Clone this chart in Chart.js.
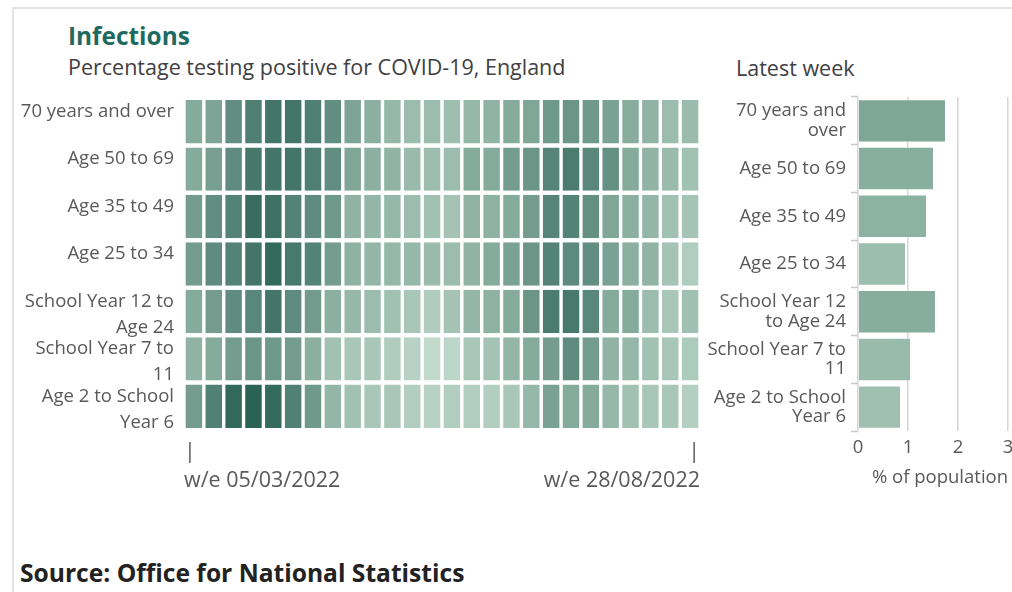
<!DOCTYPE html>
<html>
<head>
<meta charset="utf-8">
<script src="https://cdn.jsdelivr.net/npm/chart.js@4.4.1/dist/chart.umd.min.js"></script>
<style>
html,body{margin:0;padding:0;width:1012px;height:592px;overflow:hidden;background:#fff;font-family:"Open Sans",sans-serif;}
#frame{position:absolute;left:12px;top:7px;width:1100px;height:700px;border-top:2px solid #e3e3e3;border-left:2px solid #e3e3e3;}
.t{position:absolute;white-space:nowrap;}
#title{left:68px;top:20px;font-weight:700;font-size:24.4px;line-height:32px;color:#1f6a5f;}
#subtitle{left:68px;top:53px;font-size:21.5px;line-height:28px;color:#414042;}
#latest{left:736px;top:54px;font-size:21.5px;line-height:28px;color:#414042;}
#source{left:20px;top:557px;font-weight:700;font-size:24.6px;line-height:32px;color:#222;}
#heatWrap{position:absolute;left:0;top:90px;width:712px;height:410px;}
#barWrap{position:absolute;left:700px;top:90px;width:330px;height:410px;}
</style>
</head>
<body>
<div id="frame"></div>
<div class="t" id="title">Infections</div>
<div class="t" id="subtitle">Percentage testing positive for COVID-19, England</div>
<div class="t" id="latest">Latest week</div>
<div id="heatWrap"><canvas id="heat" width="712" height="410"></canvas></div>
<div id="barWrap"><canvas id="bars" width="330" height="410"></canvas></div>
<div class="t" id="source">Source: Office for National Statistics</div>
<script>
// ---- categories ----
const groups = ['70 years and over','Age 50 to 69','Age 35 to 49','Age 25 to 34','School Year 12 to Age 24','School Year 7 to 11','Age 2 to School Year 6'];
const heatGroupLabels = [['70 years and over',''],['Age 50 to 69',''],['Age 35 to 49',''],['Age 25 to 34',''],['School Year 12 to','Age 24'],['School Year 7 to','11'],['Age 2 to School','Year 6']];
const barGroupLabels = [['70 years and','over'],'Age 50 to 69','Age 35 to 49','Age 25 to 34',['School Year 12','to Age 24'],['School Year 7 to','11'],['Age 2 to School','Year 6']];
const weeks = ['w/e 05/03/2022','w/e 12/03/2022','w/e 19/03/2022','w/e 26/03/2022','w/e 02/04/2022','w/e 09/04/2022','w/e 16/04/2022','w/e 23/04/2022','w/e 30/04/2022','w/e 07/05/2022','w/e 14/05/2022','w/e 21/05/2022','w/e 28/05/2022','w/e 04/06/2022','w/e 11/06/2022','w/e 18/06/2022','w/e 25/06/2022','w/e 02/07/2022','w/e 09/07/2022','w/e 16/07/2022','w/e 23/07/2022','w/e 30/07/2022','w/e 06/08/2022','w/e 13/08/2022','w/e 20/08/2022','w/e 28/08/2022'];

// ---- series values: % testing positive, per week ----
const age70plus   = [2.5,2.8,3.8,4.5,4.9,4.9,4.5,3.8,2.8,2.3,1.9,1.7,1.7,1.6,1.9,2.1,2.5,2.7,3.3,3.5,3.3,2.9,2.4,2.1,1.7,1.75];
const age50to69   = [2.5,3.0,3.9,4.8,4.9,4.9,4.5,3.8,2.7,2.3,2.1,1.8,1.7,1.7,2.5,2.5,3.1,3.5,4.2,4.6,4.1,3.7,2.5,2.1,1.8,1.5];
const age35to49   = [3.1,3.8,4.3,5.3,5.1,4.3,3.9,3.3,2.1,2.0,1.9,1.7,1.5,1.4,2.1,2.2,2.5,3.1,4.2,4.3,3.7,2.7,2.3,2.0,1.5,1.35];
const age25to34   = [3.1,3.9,4.3,4.9,5.5,4.7,4.3,3.1,2.2,2.0,1.9,1.9,1.8,1.7,2.1,2.5,2.9,3.5,4.3,4.0,3.8,2.9,2.3,2.1,1.4,0.95];
const sy12toAge24 = [2.5,3.1,3.9,4.1,4.9,3.9,3.2,2.3,1.9,1.7,1.5,1.2,1.0,1.4,2.0,2.2,2.5,3.5,4.6,4.7,4.1,2.5,2.5,1.7,1.2,1.55];
const sy7to11     = [2.1,2.5,3.1,3.5,3.3,3.1,2.3,1.5,1.2,1.2,1.0,0.7,0.35,0.5,1.2,1.4,2.0,2.5,3.1,3.9,3.1,2.1,1.9,1.5,1.2,1.05];
const age2toSY6   = [3.1,4.4,5.5,5.8,5.4,4.4,3.3,2.0,1.5,1.2,1.2,0.9,0.7,0.9,0.9,0.9,1.2,1.9,2.9,2.5,2.5,1.9,1.5,1.2,1.2,0.85];
const seriesByGroup = [age70plus, age50to69, age35to49, age25to34, sy12toAge24, sy7to11, age2toSY6];

// ---- latest week (% of population) ----
const latestWeek = [1.76,1.52,1.38,0.96,1.56,1.06,0.86];
const xTicksLatest = [0,1,2,3];

// ---- colour helpers ----
function lerpColor(c1, c2, t) {
  t = Math.max(0, Math.min(1, t));
  const a = [1,3,5].map(i => parseInt(c1.substr(i,2),16));
  const b = [1,3,5].map(i => parseInt(c2.substr(i,2),16));
  const c = a.map((v,i) => Math.round(v + (b[i]-v)*t));
  return 'rgb(' + c.join(',') + ')';
}
const heatColor = v => lerpColor('#c2dbcd', '#2a6254', (v - 0.3) / 5.5);
const barColor  = v => lerpColor('#a1c2b2', '#7da696', (v - 0.8) / 1.0);

const FONT = '"Open Sans", sans-serif';
const GREY = '#595959';

// ---- heatmap ----
new Chart(document.getElementById('heat'), {
  type: 'bar',
  data: {
    labels: heatGroupLabels,
    datasets: weeks.map((w, j) => ({
      label: w,
      data: groups.map(() => 1),
      backgroundColor: seriesByGroup.map(s => heatColor(s[j])),
      borderColor: 'rgba(255,255,255,1)',
      borderWidth: {left: 1.7, right: 1.7, top: 0, bottom: 0},
      borderSkipped: false,
      barPercentage: 0.915,
      categoryPercentage: 1
    }))
  },
  options: {
    indexAxis: 'y',
    responsive: false,
    animation: false,
    events: [],
    layout: {padding: {top: 8, right: 12, bottom: 0, left: 0}},
    plugins: {legend: {display: false}, tooltip: {enabled: false}},
    scales: {
      x: {
        type: 'linear', stacked: true, min: 0, max: weeks.length,
        grid: {display: false, drawTicks: false}, border: {display: false},
        afterBuildTicks: s => { s.ticks = [{value: 0}, {value: weeks.length}]; },
        afterFit: s => { s.height = 70; s.paddingLeft = 0; s.paddingRight = 0; },
        ticks: {
          align: 'inner', maxRotation: 0, autoSkip: false, color: GREY, padding: 8,
          font: {family: FONT, size: 21.5, lineHeight: 1.33},
          callback: v => v === 0 ? ['|', weeks[0]] : ['|', weeks[weeks.length - 1]]
        }
      },
      y: {
        stacked: true,
        grid: {display: false, drawTicks: false}, border: {display: false},
        afterFit: s => { s.width = 184; s.paddingTop = 0; s.paddingBottom = 0; },
        ticks: {color: GREY, padding: 10, labelOffset: 3, autoSkip: false, font: {family: FONT, size: 18.5, lineHeight: 1.4}}
      }
    }
  }
});

// ---- latest week bars ----
new Chart(document.getElementById('bars'), {
  type: 'bar',
  data: {
    labels: barGroupLabels,
    datasets: [{
      data: latestWeek,
      backgroundColor: latestWeek.map(barColor),
      borderColor: 'rgba(255,255,255,0.35)',
      borderWidth: 1,
      barPercentage: 0.91,
      categoryPercentage: 1
    }]
  },
  options: {
    indexAxis: 'y',
    responsive: false,
    animation: false,
    events: [],
    layout: {padding: {top: 7, right: 8, bottom: 0, left: 0}},
    plugins: {legend: {display: false}, tooltip: {enabled: false}},
    scales: {
      x: {
        type: 'linear', min: 0, max: 3.28,
        afterBuildTicks: s => { s.ticks = xTicksLatest.map(v => ({value: v})); },
        afterFit: s => { s.height = 69; s.paddingLeft = 0; s.paddingRight = 0; },
        grid: {color: '#d6d6d6', lineWidth: 1.5, drawTicks: false},
        border: {display: false},
        ticks: {color: GREY, padding: 6, font: {family: FONT, size: 18.5}},
        title: {display: true, text: '% of population', color: GREY, font: {family: FONT, size: 18.5}, padding: {top: 0, bottom: 11}}
      },
      y: {
        afterFit: s => { s.width = 158; s.paddingTop = 0; s.paddingBottom = 0; },
        grid: {drawOnChartArea: false, drawTicks: true, tickLength: 7, tickColor: '#c8c8c8', tickWidth: 1.5},
        border: {display: false},
        ticks: {color: GREY, padding: 5, autoSkip: false, font: {family: FONT, size: 18.5, lineHeight: 1.05}}
      }
    }
  }
});
</script>
</body>
</html>
